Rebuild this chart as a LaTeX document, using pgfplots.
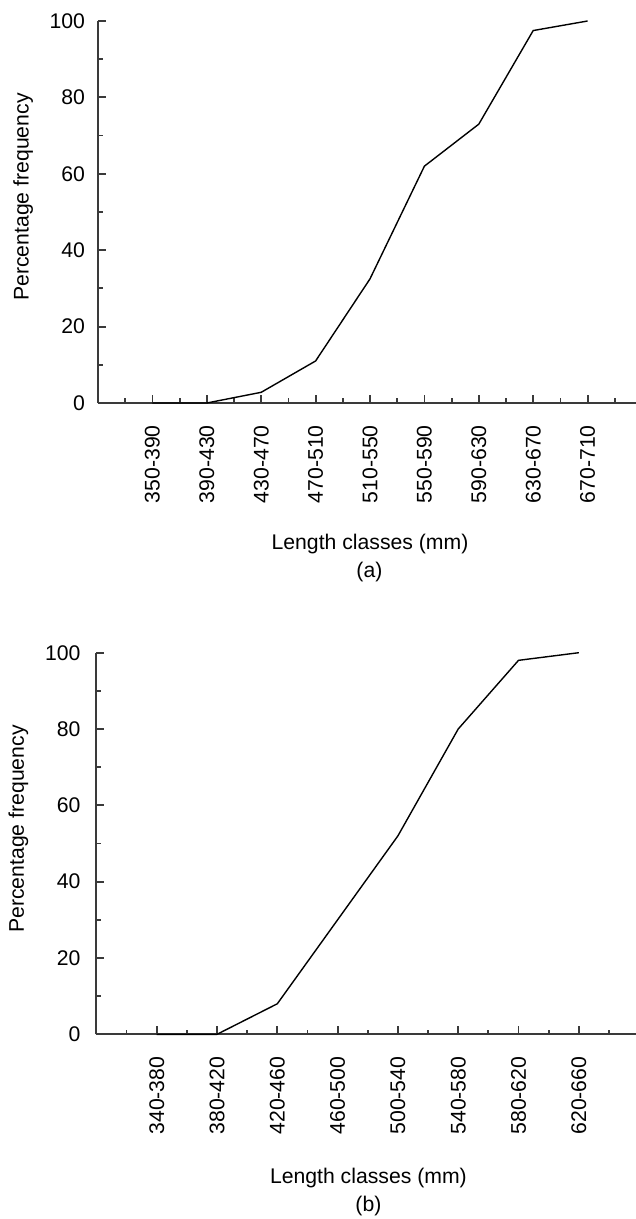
\documentclass[border=0pt]{standalone}
\usepackage{fontspec}
\setmainfont{Liberation Sans}
\usepackage{pgfplots}
\pgfplotsset{compat=1.18}
\definecolor{axgray}{HTML}{3A3A3A}
\pgfplotsset{mystyle/.style={
  axis lines=left,
  axis line style={-, axgray, line width=1pt},
  tick style={axgray, line width=0.9pt},
  tick align=inside,
  major tick length=4pt, minor tick length=2.3pt,
  ymin=0, ymax=100, xmin=0,
  ytick={0,20,...,100}, minor ytick={10,30,...,90},
  xtick={1,...,9},
  /pgf/number format/assume math mode=true,
  xticklabel style={yshift=-11pt, rotate=90, anchor=east, inner sep=0pt},
  clip=false,
  anchor=origin,
}}
\begin{document}
\fontsize{10.6pt}{12.8pt}\selectfont
\begin{tikzpicture}
\useasboundingbox (0,0) rectangle (318pt,-609.5pt);
% (a)
\begin{axis}[mystyle,
  at={(49pt,-201.5pt)},
  x=27.2pt, y=1.91pt,
  xmax=9.9,
  minor xtick={0.5,1.5,...,9.5},
  yticklabel style={anchor=east, inner sep=0pt, xshift=-6.3pt},
  xticklabels={350-390,390-430,430-470,470-510,510-550,550-590,590-630,630-670,670-710},
]
\addplot[black, line width=0.7pt] coordinates {
 (1,0) (2,0) (3,2.8) (4,11) (5,32.5) (6,62) (7,73) (8,97.5) (9,100)};
\end{axis}
% (b)
\begin{axis}[mystyle,
  at={(48.2pt,-517.15pt)},
  x=30.15pt, y=1.908pt,
  xmax=9,
  xtick={1,...,8},
  minor xtick={0.5,1.5,...,8.5},
  yticklabel style={anchor=east, inner sep=0pt, xshift=-7.8pt},
  xticklabels={340-380,380-420,420-460,460-500,500-540,540-580,580-620,620-660},
]
\addplot[black, line width=0.7pt] coordinates {
 (1,0) (2,0) (3,8) (4,30) (5,52) (6,80) (7,98) (8,100)};
\end{axis}
\node[rotate=90] at (11.6pt,-98.5pt) {Percentage frequency};
\node[rotate=90] at (9.2pt,-414.5pt) {Percentage frequency};
\node at (185pt,-272pt) {Length classes (mm)};
\node at (184.7pt,-286.2pt) {(a)};
\node at (184.2pt,-589pt) {Length classes (mm)};
\node at (184.2pt,-603pt) {(b)};
\end{tikzpicture}
\end{document}
